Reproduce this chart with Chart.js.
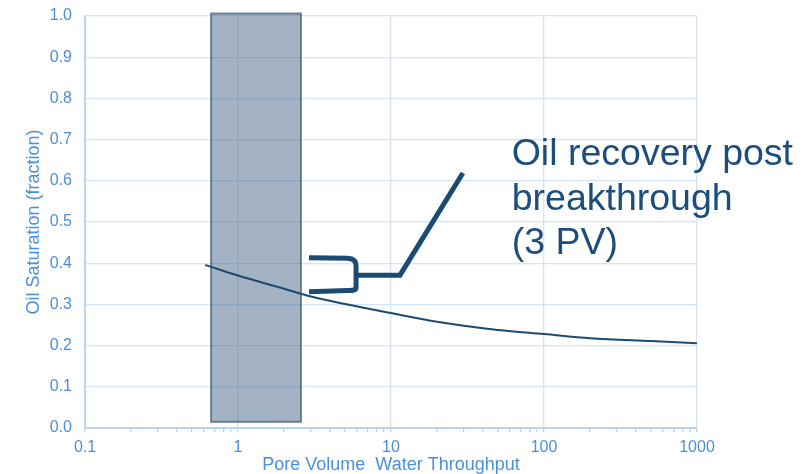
<!DOCTYPE html>
<html>
<head>
<meta charset="utf-8">
<script src="https://cdn.jsdelivr.net/npm/chart.js@4.4.1/dist/chart.umd.min.js"></script>
<style>
  html, body { margin: 0; padding: 0; background: #ffffff; }
  #wrap { width: 809px; height: 474px; }
</style>
</head>
<body>
<div id="wrap"><canvas id="c" width="809" height="474"></canvas></div>
<script>
// ---- data ----
const pvThroughput   = [0.61, 1, 2, 3, 5, 10, 20, 50, 100, 200, 500, 1000];
const oilSaturation  = [0.396, 0.370, 0.338, 0.319, 0.301, 0.279, 0.258, 0.238, 0.228, 0.218, 0.211, 0.206];
const xMajorTicks    = [0.1, 1, 10, 100, 1000];
const xTickLabels    = ['0.1', '1', '10', '100', '1000'];
const yTickValues    = [0, 0.1, 0.2, 0.3, 0.4, 0.5, 0.6, 0.7, 0.8, 0.9, 1.0];
const yTickLabels    = ['0.0', '0.1', '0.2', '0.3', '0.4', '0.5', '0.6', '0.7', '0.8', '0.9', '1.0'];
const windowPV       = [0.667, 2.58];     // breakthrough window (x range)
const windowSat      = [0.015, 1.006];    // its y range
const noteLines      = ['Oil recovery post', 'breakthrough', '(3 PV)'];
const xTitle         = 'Pore Volume  Water Throughput';
const yTitle         = 'Oil Saturation (fraction)';

// ---- annotation anchors (data space) ----
const bracketPV  = [2.91, 5.2, 5.91, 5.91, 5.91, 5.2, 2.91];
const bracketSat = [0.413, 0.412, 0.411, 0.395, 0.340, 0.334, 0.331];
const pointerPV  = [5.91, 11.45, 29.5];
const pointerSat = [0.371, 0.371, 0.619];
const notePV = 61.5, noteSat = 0.638;

// ---- styles ----
const labelColor = '#4a8fde';
const gridColor  = '#d3e4f7';
const axisColor  = '#b8d5f3';
const curveColor = '#1b4a73';
const noteColor  = '#1c4d7d';

const minorTicks = [];
xMajorTicks.forEach((m, i) => {
  if (i < xMajorTicks.length - 1) for (let k = 1; k <= 9; k++) minorTicks.push(m * k);
});
minorTicks.push(1000);

const overlay = {
  id: 'overlay',
  beforeDatasetsDraw(chart) {
    const {ctx, scales: {x, y}} = chart;
    const x0 = x.getPixelForValue(windowPV[0]), x1 = x.getPixelForValue(windowPV[1]);
    const y0 = y.getPixelForValue(windowSat[1]), y1 = y.getPixelForValue(windowSat[0]);
    ctx.save();
    ctx.fillStyle = 'rgba(72,104,136,0.5)';
    ctx.fillRect(x0, y0, x1 - x0, y1 - y0);
    ctx.strokeStyle = 'rgba(70,98,124,0.75)';
    ctx.lineWidth = 2;
    ctx.strokeRect(x0, y0, x1 - x0, y1 - y0);
    ctx.restore();
  },
  afterDatasetsDraw(chart) {
    const {ctx, scales: {x, y}} = chart;
    const P = (i) => [x.getPixelForValue(bracketPV[i]), y.getPixelForValue(bracketSat[i])];
    ctx.save();
    ctx.strokeStyle = curveColor;
    ctx.lineWidth = 5;
    ctx.lineCap = 'butt';
    ctx.lineJoin = 'miter';
    ctx.beginPath();
    let p = P(0); ctx.moveTo(p[0], p[1]);
    p = P(1); ctx.lineTo(p[0], p[1]);
    let c = P(2), e = P(3); ctx.quadraticCurveTo(c[0], c[1], e[0], e[1]);
    p = P(4); ctx.lineTo(p[0], p[1]);
    c = P(5); e = P(6);
    ctx.quadraticCurveTo(x.getPixelForValue(5.91), y.getPixelForValue(0.333), c[0], c[1]);
    ctx.lineTo(e[0], e[1]);
    ctx.stroke();
    ctx.beginPath();
    for (let i = 0; i < pointerPV.length; i++) {
      const px = x.getPixelForValue(pointerPV[i]), py = y.getPixelForValue(pointerSat[i]);
      if (i === 0) ctx.moveTo(px, py); else ctx.lineTo(px, py);
    }
    ctx.stroke();
    ctx.fillStyle = noteColor;
    ctx.font = '37.5px "Liberation Sans", Arial, sans-serif';
    ctx.textAlign = 'left';
    ctx.textBaseline = 'alphabetic';
    const tx = x.getPixelForValue(notePV), ty = y.getPixelForValue(noteSat);
    noteLines.forEach((t, i) => ctx.fillText(t, tx, ty + i * 44.5));
    ctx.restore();
  }
};

new Chart(document.getElementById('c'), {
  type: 'line',
  data: {
    datasets: [{
      data: pvThroughput.map((v, i) => ({x: v, y: oilSaturation[i]})),
      borderColor: curveColor,
      borderWidth: 2,
      pointRadius: 0,
      fill: false,
      cubicInterpolationMode: 'monotone'
    }]
  },
  options: {
    responsive: false,
    animation: false,
    devicePixelRatio: 1,
    layout: { padding: { top: 16, right: 112, bottom: 0, left: 0 } },
    plugins: { legend: { display: false }, tooltip: { enabled: false } },
    scales: {
      x: {
        type: 'logarithmic',
        min: 0.1, max: 1000,
        afterBuildTicks(scale) {
          scale.ticks = minorTicks.map(v => ({ value: v, major: xMajorTicks.includes(v) }));
        },
        afterFit(scale) { scale.height = 46; },
        ticks: {
          autoSkip: false, maxRotation: 0, padding: 6,
          color: labelColor,
          font: { family: '"Liberation Sans", Arial, sans-serif', size: 16 },
          callback(v) { const i = xMajorTicks.indexOf(v); return i >= 0 ? xTickLabels[i] : ''; }
        },
        grid: {
          color(ctx) { return ctx.tick && xMajorTicks.includes(ctx.tick.value) ? gridColor : 'rgba(0,0,0,0)'; },
          tickColor: axisColor,
          tickLength: 4,
          lineWidth: 1.3
        },
        border: { color: axisColor, width: 2 },
        title: {
          display: true, text: xTitle, color: labelColor,
          font: { family: '"Liberation Sans", Arial, sans-serif', size: 18, lineHeight: 1.0 },
          padding: { top: 0, bottom: 0 }
        }
      },
      y: {
        min: 0, max: 1,
        afterBuildTicks(scale) { scale.ticks = yTickValues.map(v => ({ value: v })); },
        afterFit(scale) { scale.width = 85; scale.paddingTop = 0; scale.paddingBottom = 0; },
        ticks: {
          padding: 13,
          color: labelColor,
          font: { family: '"Liberation Sans", Arial, sans-serif', size: 16 },
          callback(v) { const i = yTickValues.findIndex(t => Math.abs(t - v) < 1e-9); return i >= 0 ? yTickLabels[i] : ''; }
        },
        grid: { color: gridColor, drawTicks: false, lineWidth: 1.3 },
        border: { color: axisColor, width: 2 },
        title: {
          display: true, text: yTitle, color: labelColor,
          font: { family: '"Liberation Sans", Arial, sans-serif', size: 18, lineHeight: 1.2 },
          padding: { top: 23, bottom: 0 }
        }
      }
    }
  },
  plugins: [overlay]
});
</script>
</body>
</html>
